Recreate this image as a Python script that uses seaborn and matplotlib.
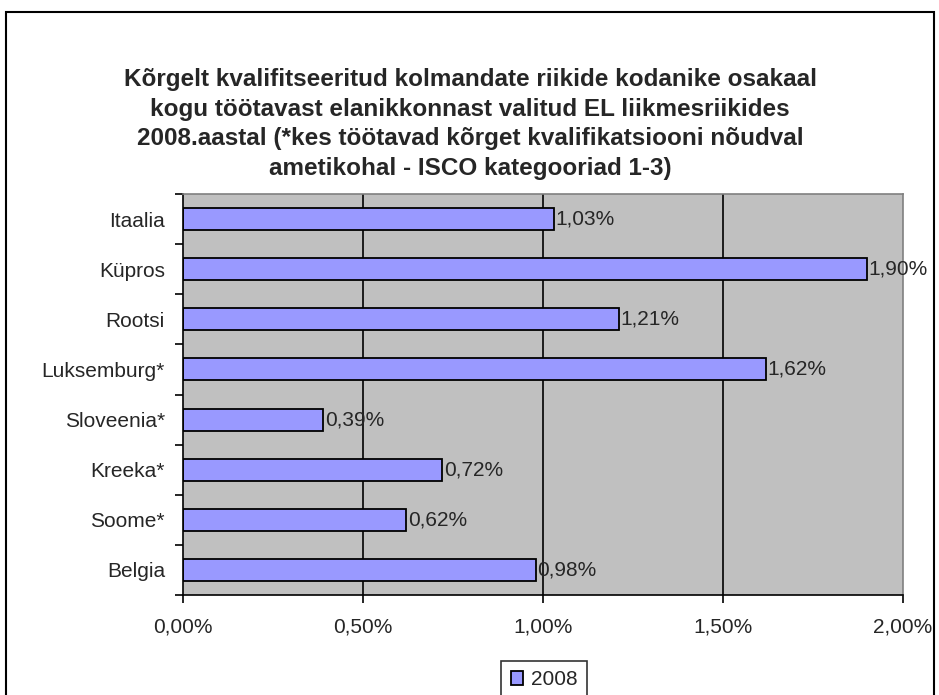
import matplotlib
matplotlib.use("Agg")
import matplotlib.pyplot as plt
import seaborn as sns
import pandas as pd
from matplotlib.ticker import FixedLocator, FuncFormatter
from matplotlib.patches import Rectangle

categories = ["Itaalia", "Küpros", "Rootsi", "Luksemburg*", "Sloveenia*", "Kreeka*", "Soome*", "Belgia"]
values = [1.03, 1.90, 1.21, 1.62, 0.39, 0.72, 0.62, 0.98]
series_name = "2008"
xticks = [0.0, 0.5, 1.0, 1.5, 2.0]
title = ("Kõrgelt kvalifitseeritud kolmandate riikide kodanike osakaal\n"
         "kogu töötavast elanikkonnast valitud EL liikmesriikides\n"
         "2008.aastal (*kes töötavad kõrget kvalifikatsiooni nõudval\n"
         "ametikohal - ISCO kategooriad 1-3)")

sns.set_style("white")
plt.rcParams['font.family'] = ['Liberation Sans', 'DejaVu Sans']

df = pd.DataFrame({"country": categories, "value": values, "series": series_name})

fig = plt.figure(figsize=(9.39, 6.95), dpi=100)
ax = fig.add_axes([183/939, 1-595/695, 720/939, 401/695])
ax.set_facecolor("#C0C0C0")

sns.barplot(data=df, x="value", y="country", hue="series", palette=["#9999FF"],
            saturation=1, edgecolor="black", linewidth=1.3, width=0.44, ax=ax,
            orient="h", zorder=3)

ax.set_xlim(0, 2.0)
ax.set_ylim(7.5, -0.5)
ax.set_xticks(xticks)
ax.xaxis.set_major_formatter(FuncFormatter(lambda v, p: f"{v:.2f}%".replace(".", ",")))
for v in xticks[1:-1]:
    ax.axvline(v, color="black", linewidth=1.2, zorder=1)

ax.set_yticks(range(len(categories)))
ax.set_yticklabels(categories)
ax.yaxis.set_minor_locator(FixedLocator([i - 0.5 for i in range(len(categories) + 1)]))
ax.tick_params(axis="y", which="major", length=0, pad=13, labelsize=15)
ax.tick_params(axis="y", which="minor", length=6, width=1.2, color="black", left=True)
ax.tick_params(axis="x", which="major", length=6, width=1.2, color="black", bottom=True,
               labelsize=15, pad=10)
ax.set_xlabel("")
ax.set_ylabel("")

for s in ["top", "right"]:
    ax.spines[s].set_color("#808080")
    ax.spines[s].set_linewidth(1.2)
for s in ["left", "bottom"]:
    ax.spines[s].set_color("black")
    ax.spines[s].set_linewidth(1.2)
for s in ax.spines.values():
    s.set_zorder(4)

for i, v in enumerate(values):
    ax.text(v + 0.004, i, f"{v:.2f}%".replace(".", ","), va="center", ha="left",
            fontsize=15, zorder=5)

leg = ax.legend(loc="upper center", bbox_to_anchor=(544/939, 1-661/695), bbox_transform=fig.transFigure,
                frameon=True, fancybox=False, edgecolor="black", fontsize=15,
                handlelength=0.6, handleheight=0.6, handletextpad=0.35, borderpad=0.45,
                borderaxespad=0)
leg.get_frame().set_linewidth(1.2)

fig.text(470/939, 1-124/695, title, ha="center", va="center", fontsize=17.5,
         fontweight="bold", linespacing=1.36)

fig.patches.append(Rectangle((6/939, -10/695), 928/939, 693/695, transform=fig.transFigure,
                             fill=False, edgecolor="black", linewidth=1.5))

fig.savefig("out.png", dpi=100)
